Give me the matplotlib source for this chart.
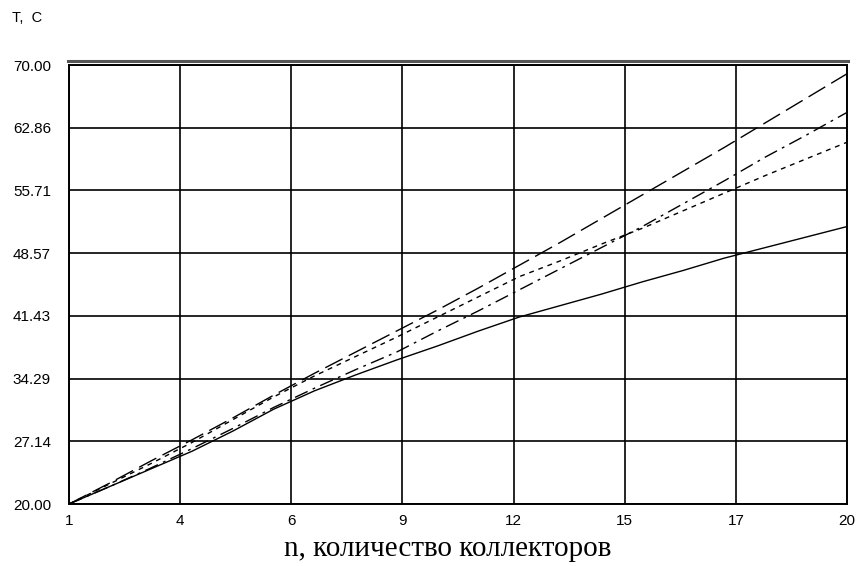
import matplotlib
matplotlib.use("Agg")
import matplotlib.pyplot as plt
from matplotlib.lines import Line2D
import numpy as np

n_values = list(range(1, 21))

t_long_dash = [20.0, 22.4, 24.9, 27.3, 29.8, 32.4, 34.9, 37.3, 39.7, 42.1,
               44.6, 47.2, 49.8, 52.5, 55.2, 57.9, 60.6, 63.4, 66.2, 69.0]
t_dash_dot = [20.0, 22.0, 24.1, 26.3, 28.6, 31.0, 33.2, 35.3, 37.3, 39.7,
              42.0, 44.4, 46.8, 49.2, 51.6, 54.2, 56.8, 59.5, 62.0, 64.6]
t_dotted = [20.0, 22.3, 24.6, 27.0, 29.6, 32.2, 34.6, 36.8, 39.0, 41.3,
            43.6, 45.9, 47.7, 49.6, 51.4, 53.4, 55.4, 57.4, 59.3, 61.2]
t_solid = [20.0, 22.0, 24.0, 26.0, 28.3, 30.8, 32.9, 34.7, 36.4, 38.0,
           39.7, 41.3, 42.6, 43.9, 45.3, 46.6, 48.0, 49.2, 50.4, 51.6]

x_tick_labels = ["1", "4", "6", "9", "12", "15", "17", "20"]
y_tick_labels = ["20.00", "27.14", "34.29", "41.43", "48.57", "55.71", "62.86", "70.00"]

x_min, x_max = 1, 20
y_min, y_max = 20, 70

fig = plt.figure(figsize=(8.6, 5.66), dpi=100)
fig.patch.set_facecolor("white")
ax = fig.add_axes([69 / 860, 1 - 504 / 566, (847 - 69) / 860, (504 - 65) / 566])

ax.set_xlim(x_min, x_max)
ax.set_ylim(y_min, y_max)

xt = np.linspace(x_min, x_max, len(x_tick_labels))
yt = np.linspace(y_min, y_max, len(y_tick_labels))
ax.set_xticks(xt)
ax.set_xticklabels(x_tick_labels)
ax.set_yticks(yt)
ax.set_yticklabels(y_tick_labels)

for lab in ax.get_xticklabels() + ax.get_yticklabels():
    lab.set_fontfamily("Liberation Sans")
    lab.set_fontsize(11)
ax.tick_params(axis="both", length=0, colors="black")
ax.tick_params(axis="x", pad=7)
ax.tick_params(axis="y", pad=13)

ax.grid(True, color="black", linewidth=1.2)
ax.set_axisbelow(True)
for s in ax.spines.values():
    s.set_color("black")
    s.set_linewidth(1.4)

lw = 1.0
ax.plot(n_values, t_long_dash, color="black", lw=lw, dashes=(14, 5))
ax.plot(n_values, t_dash_dot, color="black", lw=lw, dashes=(10, 4, 2, 4))
ax.plot(n_values, t_dotted, color="black", lw=lw, dashes=(3.5, 3.5))
ax.plot(n_values, t_solid, color="black", lw=lw)

# top 3D-like frame line
fig.add_artist(Line2D([68 / 860, 848 / 860], [1 - 61 / 566, 1 - 61 / 566],
                      transform=fig.transFigure, color="#555555", lw=2.2))

fig.text(12 / 860, 1 - 18 / 566, "T,  C", fontfamily="Liberation Sans",
         fontsize=10.5, ha="left", va="center")
fig.text(448 / 860, 1 - 549 / 566, "n, количество коллекторов",
         fontfamily="Liberation Serif", fontsize=21, ha="center", va="center")

fig.savefig("out.png", dpi=100, facecolor="white")
